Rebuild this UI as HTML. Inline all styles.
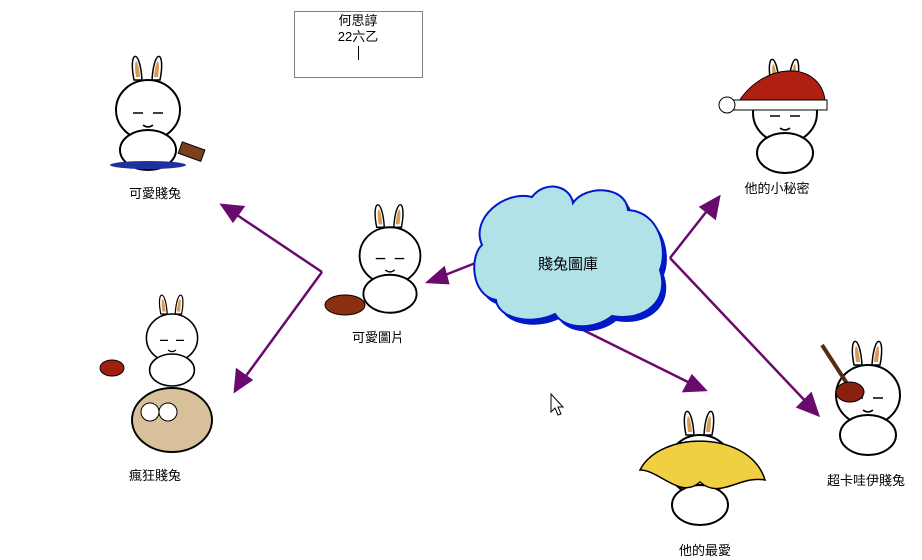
<!DOCTYPE html>
<html><head><meta charset="utf-8"><style>
html,body{margin:0;padding:0;background:#fff;}
svg{display:block;}
text{font-family:"Liberation Sans","Noto Sans CJK TC",sans-serif;font-size:13px;fill:#000;}
</style></head><body>
<svg width="922" height="560" viewBox="0 0 922 560" xmlns="http://www.w3.org/2000/svg">
<defs>
<marker id="ah" markerWidth="10" markerHeight="10" refX="9" refY="5" orient="auto" markerUnits="userSpaceOnUse">
</marker>
<g id="rab">
 <path d="M-14,-45 C-20,-75 -8,-78 -6,-45 Z" fill="#fff" stroke="#000" stroke-width="1.5"/>
 <path d="M-12,-48 C-15,-68 -10,-70 -8,-48 Z" fill="#d89a55"/>
 <path d="M4,-45 C6,-78 18,-75 12,-45 Z" fill="#fff" stroke="#000" stroke-width="1.5"/>
 <path d="M6,-48 C8,-70 13,-68 10,-48 Z" fill="#d89a55"/>
 <ellipse cx="0" cy="-15" rx="32" ry="30" fill="#fff" stroke="#000" stroke-width="2"/>
 <ellipse cx="0" cy="25" rx="28" ry="20" fill="#fff" stroke="#000" stroke-width="2"/>
 <path d="M-15,-12 h10 M5,-12 h10 M-5,0 q5,4 10,0" stroke="#000" stroke-width="1.5" fill="none"/>
</g>
</defs>

<!-- text box -->
<rect x="294.5" y="11.5" width="128" height="66" fill="#fff" stroke="#000" stroke-dasharray="1,1"/>
<text x="358" y="25" text-anchor="middle">何思諄</text>
<text x="358" y="41" text-anchor="middle">22六乙</text>
<line x1="358.5" y1="46" x2="358.5" y2="60" stroke="#000"/>

<!-- arrows -->
<g stroke="#6b0a6e" stroke-width="2.5" fill="#6b0a6e">
 <line x1="478" y1="262" x2="440" y2="277"/>
 <polygon points="428,282 444,268 448,283"/>
 <line x1="322" y1="272" x2="234" y2="213"/>
 <polygon points="222,205 243,207 233,221"/>
 <line x1="322" y1="272" x2="243" y2="380"/>
 <polygon points="235,391 237,370 251,380"/>
 <line x1="670" y1="258" x2="710" y2="207"/>
 <polygon points="719,197 715,218 701,207"/>
 <line x1="670" y1="258" x2="809" y2="405"/>
 <polygon points="818,415 798,407 811,394"/>
 <line x1="573" y1="325" x2="692" y2="384"/>
 <polygon points="705,390 684,391 692,376"/>
</g>

<!-- cloud -->
<path d="M532,197 C545,180 570,185 573,203 C585,185 625,185 628,210 C660,212 668,250 660,270 C670,300 645,322 612,316 C595,330 565,330 555,314 C530,326 498,318 496,300 C470,295 470,255 482,245 C470,218 505,190 532,197 Z" transform="translate(4,5)" fill="#0018c8"/>
<path d="M532,197 C545,180 570,185 573,203 C585,185 625,185 628,210 C660,212 668,250 660,270 C670,300 645,322 612,316 C595,330 565,330 555,314 C530,326 498,318 496,300 C470,295 470,255 482,245 C470,218 505,190 532,197 Z" fill="#b0e2e8" stroke="#0018c8" stroke-width="2"/>
<text x="568" y="269" text-anchor="middle" style="font-size:15px">賤兔圖庫</text>

<!-- rabbits -->
<use href="#rab" transform="translate(148,125)"/>
<ellipse cx="148" cy="165" rx="38" ry="4" fill="#2030a0"/>
<rect x="180" y="145" width="24" height="12" fill="#7a4020" stroke="#000" transform="rotate(20 190 150)"/>
<use href="#rab" transform="translate(390,270) scale(0.95)"/>
<ellipse cx="345" cy="305" rx="20" ry="10" fill="#8a3010" stroke="#000"/>
<use href="#rab" transform="translate(172,350) scale(0.8)"/>
<ellipse cx="172" cy="420" rx="40" ry="32" fill="#d8c09a" stroke="#000" stroke-width="2"/>
<circle cx="150" cy="412" r="9" fill="#fff" stroke="#000"/><circle cx="168" cy="412" r="9" fill="#fff" stroke="#000"/>
<ellipse cx="112" cy="368" rx="12" ry="8" fill="#a02010" stroke="#000"/>
<use href="#rab" transform="translate(785,128)"/>
<path d="M735,108 C760,60 820,60 825,100 Z" fill="#b02010" stroke="#000"/>
<rect x="732" y="100" width="95" height="10" fill="#fff" stroke="#000"/>
<circle cx="727" cy="105" r="8" fill="#fff" stroke="#000"/>
<use href="#rab" transform="translate(868,410)"/>
<line x1="822" y1="345" x2="848" y2="385" stroke="#5a2a10" stroke-width="4"/>
<ellipse cx="850" cy="392" rx="14" ry="10" fill="#8a2010" stroke="#000"/>
<use href="#rab" transform="translate(700,480)"/>
<path d="M640,470 C660,430 750,430 765,480 C740,475 720,500 700,482 C680,500 660,470 640,470 Z" fill="#f0d040" stroke="#000" stroke-width="1.5"/>

<!-- cursor -->
<path d="M551,394 L551,412 L555,408 L558,415 L561,414 L558,407 L563,407 Z" fill="#fff" stroke="#000"/>

<!-- labels -->
<text x="155" y="198" text-anchor="middle">可愛賤兔</text>
<text x="378" y="342" text-anchor="middle">可愛圖片</text>
<text x="155" y="480" text-anchor="middle">瘋狂賤兔</text>
<text x="777" y="193" text-anchor="middle">他的小秘密</text>
<text x="866" y="485" text-anchor="middle">超卡哇伊賤兔</text>
<text x="705" y="555" text-anchor="middle">他的最愛</text>
</svg>
</body></html>
